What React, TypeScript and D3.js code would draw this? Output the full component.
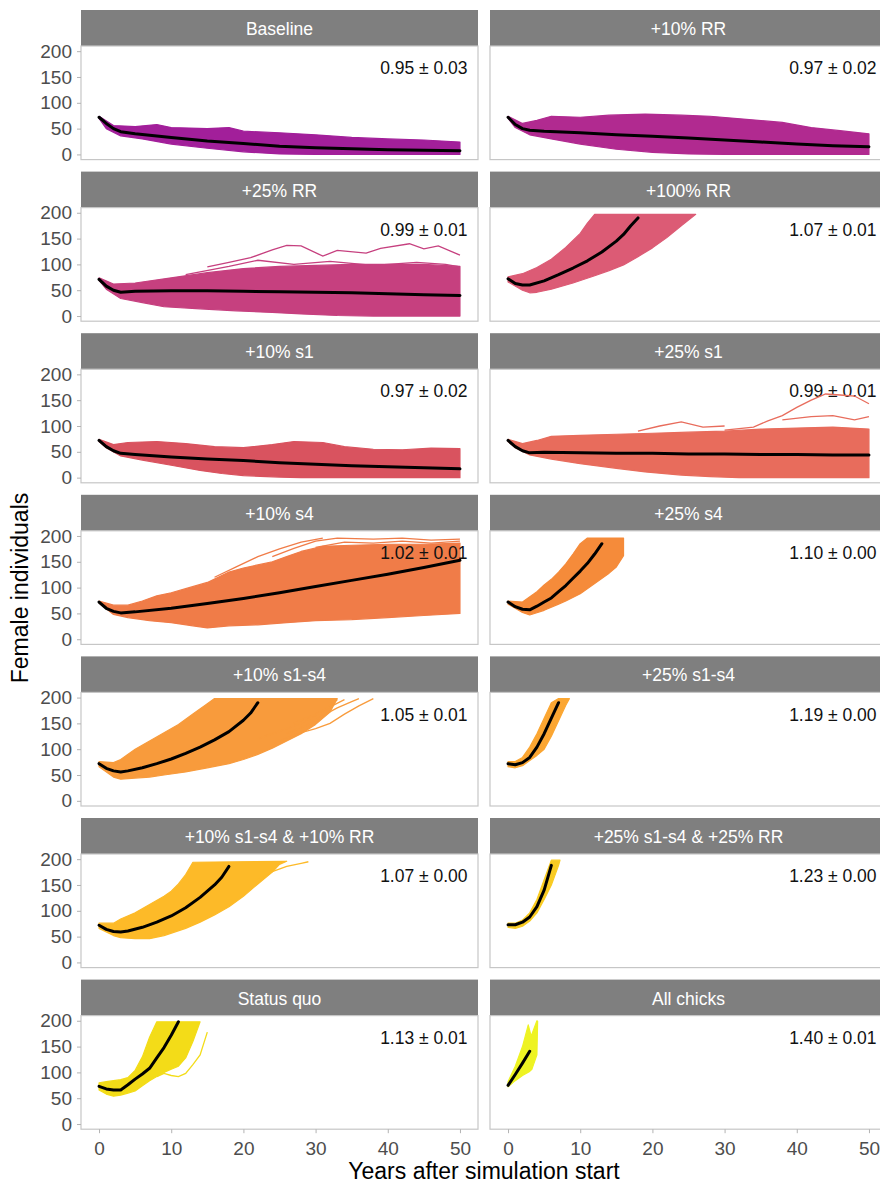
import React, { useEffect, useRef } from "react";
import * as d3 from "d3";

type Pt = [number, number];

// facet titles and growth-rate annotations
const facetNames = [
  "Baseline", "+10% RR", "+25% RR", "+100% RR", "+10% s1", "+25% s1", "+10% s4", "+25% s4",
  "+10% s1-s4", "+25% s1-s4", "+10% s1-s4 & +10% RR", "+25% s1-s4 & +25% RR", "Status quo", "All chicks",
];
const lambdaLabels = [
  "0.95 ± 0.03", "0.97 ± 0.02", "0.99 ± 0.01", "1.07 ± 0.01", "0.97 ± 0.02", "0.99 ± 0.01", "1.02 ± 0.01",
  "1.10 ± 0.00", "1.05 ± 0.01", "1.19 ± 0.00", "1.07 ± 0.00", "1.23 ± 0.00", "1.13 ± 0.01", "1.40 ± 0.01",
];
const yTicks = [0, 50, 100, 150, 200];
const xTicks = [0, 10, 20, 30, 40, 50];

// mean trajectories (black lines), [year, females]
const meanBaseline: Pt[] = [[0,72],[1,60],[2,50],[3,44],[5,40],[10,33],[15,26],[20,21],[25,16],[30,13],[35,11],[40,9],[45,8],[50,7]];
const meanRR10: Pt[] = [[0,72],[1,58],[2,50],[3,47],[5,45],[10,42],[15,38],[20,35],[25,32],[30,28],[35,24],[40,20],[45,17],[50,15]];
const meanRR25: Pt[] = [[0,71],[1,58],[2,50],[3,46],[5,48],[10,49],[15,49],[20,48],[25,47],[30,46],[35,45],[40,43],[45,41],[50,40]];
const meanRR100: Pt[] = [[0,72],[1,63],[2,60],[3,60],[5,68],[7,80],[9,93],[11,107],[13,124],[15,145],[16,158],[17,175],[18,190]];
const meanS1_10: Pt[] = [[0,72],[1,60],[2,52],[3,47],[5,45],[10,40],[15,36],[20,33],[25,29],[30,26],[35,23],[40,21],[45,19],[50,17]];
const meanS1_25: Pt[] = [[0,72],[1,60],[2,52],[3,48],[5,49],[10,48],[15,47],[20,47],[25,46],[30,46],[35,45],[40,45],[45,44],[50,44]];
const meanS4_10: Pt[] = [[0,72],[1,60],[2,54],[3,51],[5,53],[10,60],[15,69],[20,79],[25,90],[30,102],[35,114],[40,126],[45,139],[50,153]];
const meanS4_25: Pt[] = [[0,72],[1,63],[2,58],[3,57],[4,64],[5,72],[6,80],[7,92],[8,104],[9,118],[10,132],[11,147],[12,165],[13,185]];
const meanAll10: Pt[] = [[0,72],[1,63],[2,58],[3,56],[4,58],[6,64],[8,72],[10,81],[12,92],[14,104],[16,118],[18,134],[20,156],[21,170],[22,190]];
const meanAll25: Pt[] = [[0,72],[1,70],[2,74],[3,84],[4,104],[5,130],[6,160],[7,190]];
const meanAllRR10: Pt[] = [[0,72],[1,64],[2,60],[3,59],[4,61],[6,68],[8,78],[10,90],[12,106],[14,126],[16,150],[17,165],[18,186]];
const meanAllRR25: Pt[] = [[0,73],[1,73],[2,78],[3,88],[4,108],[5,140],[6,188]];
const meanStatusQuo: Pt[] = [[0,73],[1,68],[2,66],[3,66],[4,76],[5,87],[6,97],[7,108],[8,128],[9,148],[10,172],[11,198]];
const meanChicks: Pt[] = [[0,75],[1,96],[2,118],[3,141]];

// upper and lower edges of the bundle of simulated runs
const upBaseline: Pt[] = [[0,74],[2,56],[5,54],[8,58],[10,52],[15,50],[18,52],[20,45],[25,42],[30,38],[35,33],[40,30],[45,28],[50,24]];
const loBaseline: Pt[] = [[0,70],[1,50],[3,36],[6,30],[10,20],[15,12],[20,5],[25,1],[30,0],[50,0]];
const upRR10: Pt[] = [[0,74],[2,60],[4,66],[6,74],[10,72],[14,76],[19,78],[24,76],[28,74],[33,68],[38,62],[42,52],[46,46],[50,40]];
const loRR10: Pt[] = [[0,70],[1,52],[3,38],[6,30],[10,20],[15,10],[20,4],[25,1],[30,0],[50,0]];
const upRR25: Pt[] = [[0,74],[2,62],[5,64],[10,74],[15,84],[20,92],[25,96],[30,98],[35,100],[40,100],[45,100],[50,96]];
const loRR25: Pt[] = [[0,69],[1,52],[3,34],[6,26],[9,18],[14,14],[19,10],[24,7],[28,4],[33,1],[38,0],[50,0]];
const upRR100: Pt[] = [[0,76],[2,82],[4,94],[6,110],[8,133],[10,160],[11,180],[12,197],[26,197]];
const loRR100: Pt[] = [[0,66],[2,50],[3,45],[4,46],[6,52],[9,64],[12,78],[14,88],[16,99],[18,115],[20,132],[22,152],[24,175],[26,197]];
const upS1_10: Pt[] = [[0,74],[2,64],[4,68],[8,70],[12,66],[16,60],[20,58],[24,64],[27,70],[31,68],[34,60],[38,55],[42,54],[46,57],[50,56]];
const loS1_10: Pt[] = [[0,70],[1,58],[3,42],[6,34],[10,24],[14,14],[17,8],[20,4],[25,1],[28,0],[50,0]];
const upS1_25: Pt[] = [[0,74],[2,66],[4,72],[6,80],[10,82],[15,84],[20,86],[25,88],[30,90],[35,94],[40,96],[45,98],[50,94]];
const loS1_25: Pt[] = [[0,70],[1,58],[3,44],[6,36],[10,27],[15,18],[19,11],[24,5],[28,2],[32,0],[50,0]];
const upS4_10: Pt[] = [[0,74],[2,66],[4,66],[6,74],[8,84],[10,90],[12,98],[15,110],[18,130],[20,138],[22,144],[24,150],[26,160],[28,170],[31,180],[35,182],[40,184],[45,184],[50,186]];
const loS4_10: Pt[] = [[0,70],[2,48],[4,42],[7,36],[10,32],[13,26],[15,22],[18,26],[22,28],[26,32],[30,36],[35,38],[40,42],[45,46],[50,50]];
const upS4_25: Pt[] = [[0,74],[2,72],[4,92],[5,105],[6,116],[7,130],[8,146],[9,165],[10,185],[11,196],[16,196]];
const loS4_25: Pt[] = [[0,68],[2,52],[3,47],[5,56],[7,68],[8,74],[10,88],[12,108],[14,128],[15,140],[16,162]];
const upAll10: Pt[] = [[0,76],[2,74],[3,80],[5,100],[7,116],[9,132],[11,148],[13,168],[15,188],[16,198],[30,198]];
const loAll10: Pt[] = [[0,66],[2,46],[3,42],[5,44],[7,46],[9,50],[12,56],[15,64],[18,72],[20,80],[22,90],[24,102],[26,116],[28,130],[30,148],[32,172],[33,198]];
const upAll25: Pt[] = [[0,76],[1,76],[2,84],[3,104],[4,130],[5,160],[6,190],[7,198],[8,198]];
const loAll25: Pt[] = [[0,66],[1,64],[2,68],[3,78],[4,88],[5,100],[6,125],[7,155],[8,185],[8.5,198]];
const upAllRR10: Pt[] = [[0,76],[2,76],[3,84],[5,96],[7,112],[9,128],[10,138],[11,152],[12,170],[13,194],[26,196]];
const loAllRR10: Pt[] = [[0,66],[2,52],[3,48],[5,46],[7,46],[9,52],[12,66],[14,78],[16,92],[18,108],[20,128],[22,152],[24,175],[25,190],[26,196]];
const upAllRR25: Pt[] = [[0,76],[1,76],[2,82],[3,96],[4,122],[5,160],[6,198]];
const loAllRR25: Pt[] = [[0,68],[1,66],[2,70],[3,80],[4,96],[5,122],[6,150],[7,188],[7.2,198]];
const upStatusQuo: Pt[] = [[0,80],[1,82],[2,84],[3,86],[4,90],[5,104],[6,130],[7,168],[8,198],[14,198]];
const loStatusQuo: Pt[] = [[0,66],[1,58],[2,54],[3,56],[4,60],[5,64],[6,74],[7,84],[8,92],[9,100],[10,106],[11,112],[12,128],[13,160],[14,198]];
const upChicks: Pt[] = [[0,82],[1,112],[2,150],[2.8,192],[3.2,170],[4,200]];
const loChicks: Pt[] = [[0,72],[1,84],[2,94],[3,102],[3.3,106],[4,134],[4.1,199]];

// single runs that stand out of the bundle
const strayRR25: Pt[][] = [
  [[15,95],[18,104],[21,113],[24,128],[26,137],[28,136],[31,116],[33,127],[37,122],[39,131],[43,140],[45,130],[47,136],[50,118]],
  [[12,80],[18,96],[22,108],[27,100],[32,106],[38,98],[44,104],[48,100],[50,95]],
];
const strayS1_25: Pt[][] = [
  [[30,92],[34,98],[36,110],[38,120],[40,136],[42,150],[44,162],[46,160],[48,158],[50,143]],
  [[18,90],[21,100],[24,108],[27,98],[30,100]],
  [[38,112],[42,118],[45,120],[48,112],[50,118]],
];
const strayS4_10: Pt[][] = [
  [[16,120],[19,140],[22,160],[25,175],[28,188],[31,196]],
  [[24,160],[27,176],[30,190],[33,196],[38,194],[42,196],[46,192],[50,194]],
  [[30,178],[34,188],[38,186],[42,190],[46,186],[50,190]],
];
const strayAll10: Pt[][] = [
  [[24,110],[27,128],[30,140],[32,150],[34,168],[36,184],[38,198]],
  [[26,130],[29,148],[31,165],[33,180],[35,192],[36,198]],
  [[27,150],[30,168],[32,182],[34,196]],
  [[22,120],[26,140],[28,150],[30,166],[32,185],[33,196]],
];
const strayAllRR10: Pt[][] = [[[22,160],[24,176],[26,186],[28,192],[29,195]]];
const strayStatusQuo: Pt[][] = [[[8,92],[9,98],[10,94],[11,92],[12,98],[13,115],[14,134],[15,178]]];

const means = [meanBaseline, meanRR10, meanRR25, meanRR100, meanS1_10, meanS1_25, meanS4_10, meanS4_25, meanAll10, meanAll25, meanAllRR10, meanAllRR25, meanStatusQuo, meanChicks];
const uppers = [upBaseline, upRR10, upRR25, upRR100, upS1_10, upS1_25, upS4_10, upS4_25, upAll10, upAll25, upAllRR10, upAllRR25, upStatusQuo, upChicks];
const lowers = [loBaseline, loRR10, loRR25, loRR100, loS1_10, loS1_25, loS4_10, loS4_25, loAll10, loAll25, loAllRR10, loAllRR25, loStatusQuo, loChicks];
const strays: Pt[][][] = [[], [], strayRR25, [], [], strayS1_25, strayS4_10, [], strayAll10, [], strayAllRR10, [], strayStatusQuo, []];

const facetColors = [
  "#a21f9a", "#b12a90", "#c6407f", "#dc5b75", "#d9535f", "#e86c5c", "#f07c48",
  "#f58b3a", "#f89b3c", "#fba632", "#fdba28", "#f9cb22", "#f3dc18", "#eef323",
];

const FONT = "'Liberation Sans', Arial, Helvetica, sans-serif";

export default function App() {
  const ref = useRef<SVGSVGElement>(null);

  useEffect(() => {
    const svg = d3.select(ref.current);
    svg.selectAll("*").remove();

    const colX = [81, 490];
    const panelW = 397;
    const stripH = 36;
    const panelH = 113.6;
    const rowStep = 161.6;
    const top0 = 10;

    facetNames.forEach((name, i) => {
      const col = i % 2;
      const row = Math.floor(i / 2);
      const x0 = colX[col];
      const sTop = top0 + row * rowStep;
      const pTop = sTop + stripH;

      const x = d3.scaleLinear().domain([-2.5, 52.5]).range([x0, x0 + panelW]);
      const y = d3.scaleLinear().domain([-10, 210]).range([pTop + panelH, pTop]);
      const line = d3.line<Pt>().x(d => x(d[0])).y(d => y(d[1]));

      const g = svg.append("g");

      // strip
      g.append("rect").attr("x", x0).attr("y", sTop).attr("width", panelW).attr("height", stripH).attr("fill", "#7f7f7f");
      g.append("text").text(name)
        .attr("x", x0 + panelW / 2).attr("y", sTop + stripH / 2 + 1)
        .attr("text-anchor", "middle").attr("dominant-baseline", "central")
        .attr("fill", "white").attr("font-size", 17.5).attr("font-family", FONT);

      const color = facetColors[i];
      const band = uppers[i].concat(lowers[i].slice().reverse());
      g.append("path").attr("d", line(band) + "Z")
        .attr("fill", color).attr("stroke", color).attr("stroke-width", 1.2).attr("stroke-linejoin", "round");

      g.append("text").text(lambdaLabels[i])
        .attr("x", x(45)).attr("y", y(167))
        .attr("text-anchor", "middle").attr("dominant-baseline", "central")
        .attr("fill", "#111").attr("font-size", 17.5).attr("font-family", FONT);

      g.selectAll(".stray").data(strays[i]).join("path")
        .attr("d", d => line(d))
        .attr("fill", "none").attr("stroke", color).attr("stroke-width", 1.3);

      g.append("path").attr("d", line(means[i]))
        .attr("fill", "none").attr("stroke", "black").attr("stroke-width", 3)
        .attr("stroke-linejoin", "round").attr("stroke-linecap", "round");

      // panel border
      g.append("rect").attr("x", x0).attr("y", pTop).attr("width", panelW).attr("height", panelH)
        .attr("fill", "none").attr("stroke", "#c6c6c6").attr("stroke-width", 1.2);

      if (col === 0) {
        const ya = g.append("g").attr("transform", `translate(${x0},0)`)
          .call(d3.axisLeft(y).tickValues(yTicks).tickSize(4).tickPadding(5));
        ya.select(".domain").remove();
        ya.selectAll("line").attr("stroke", "#b3b3b3");
        ya.selectAll("text").attr("fill", "#4d4d4d").attr("font-size", 19).attr("font-family", FONT);
      }
      if (row === 6) {
        const xa = g.append("g").attr("transform", `translate(0,${pTop + panelH})`)
          .call(d3.axisBottom(x).tickValues(xTicks).tickSize(4).tickPadding(8));
        xa.select(".domain").remove();
        xa.selectAll("line").attr("stroke", "#b3b3b3");
        xa.selectAll("text").attr("fill", "#4d4d4d").attr("font-size", 19).attr("font-family", FONT);
      }
    });

    svg.append("text").text("Years after simulation start")
      .attr("x", 484).attr("y", 1179).attr("text-anchor", "middle")
      .attr("fill", "black").attr("font-size", 23).attr("font-family", FONT);

    svg.append("text").text("Female individuals")
      .attr("transform", "translate(28,588) rotate(-90)").attr("text-anchor", "middle")
      .attr("fill", "black").attr("font-size", 23).attr("font-family", FONT);
  }, []);

  return (
    <svg ref={ref} width={880} height={1184}
      style={{ position: "absolute", left: 0, top: 0, background: "white" }} />
  );
}
